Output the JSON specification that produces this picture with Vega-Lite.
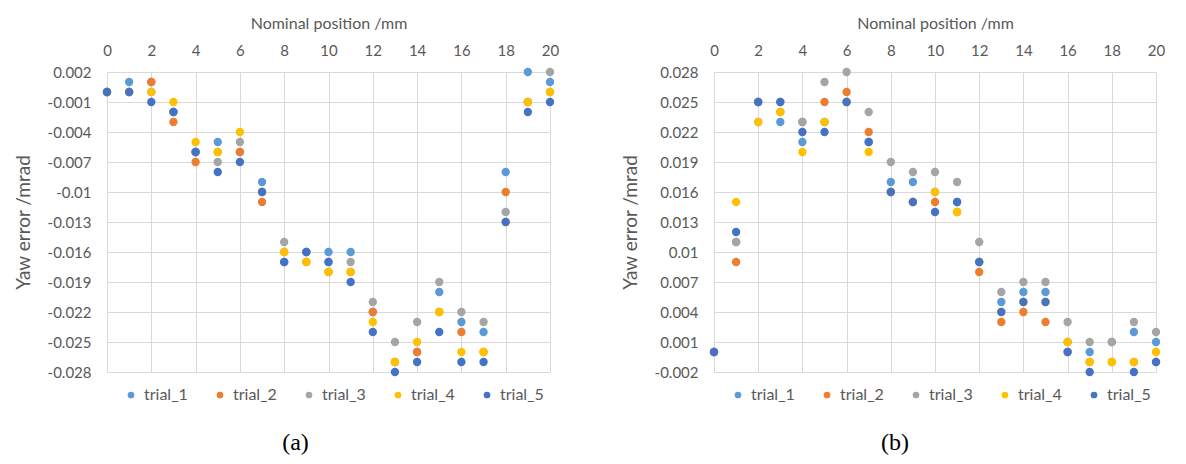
{
  "$schema": "https://vega.github.io/schema/vega-lite/v6.json",
  "padding": {"left": 14, "top": 15, "right": 0, "bottom": 0},
  "spacing": 62,
  "resolve": {"legend": {"color": "independent"}},
  "config": {
    "font": "Lato",
    "view": {"stroke": null},
    "axis": {"domain": false, "ticks": false, "gridColor": "#d9d9d9", "gridWidth": 1, "labelColor": "#595959", "labelFontSize": 15, "titleColor": "#595959", "titleFontSize": 16, "titleFontWeight": "normal", "labelFont": "Lato", "titleFont": "Lato", "labelFlush": false},
    "axisY": {"titleFontSize": 19},
    "axisX": {"titlePadding": 12},
    "legend": {"labelColor": "#595959", "labelFontSize": 16, "labelFont": "Lato", "symbolType": "circle", "symbolSize": 45, "symbolStrokeWidth": 0, "labelOffset": 5, "columnPadding": 24, "padding": 0},
    "title": {"font": "Liberation Serif", "fontSize": 24, "fontWeight": "normal", "color": "#000000"}
  },
  "datasets": {
    "a": [
      {"x":0,"t":"trial_1","y":0},{"x":1,"t":"trial_1","y":0.001},{"x":2,"t":"trial_1","y":0.001},{"x":3,"t":"trial_1","y":-0.002},{"x":4,"t":"trial_1","y":-0.006},{"x":5,"t":"trial_1","y":-0.005},{"x":6,"t":"trial_1","y":-0.006},{"x":7,"t":"trial_1","y":-0.009},{"x":8,"t":"trial_1","y":-0.017},{"x":9,"t":"trial_1","y":-0.016},{"x":10,"t":"trial_1","y":-0.016},{"x":11,"t":"trial_1","y":-0.016},{"x":12,"t":"trial_1","y":-0.022},{"x":13,"t":"trial_1","y":-0.027},{"x":14,"t":"trial_1","y":-0.026},{"x":15,"t":"trial_1","y":-0.020},{"x":16,"t":"trial_1","y":-0.023},{"x":17,"t":"trial_1","y":-0.024},{"x":18,"t":"trial_1","y":-0.008},{"x":19,"t":"trial_1","y":0.002},{"x":20,"t":"trial_1","y":0.001},
      {"x":0,"t":"trial_2","y":0},{"x":1,"t":"trial_2","y":0},{"x":2,"t":"trial_2","y":0.001},{"x":3,"t":"trial_2","y":-0.003},{"x":4,"t":"trial_2","y":-0.007},{"x":5,"t":"trial_2","y":-0.006},{"x":6,"t":"trial_2","y":-0.006},{"x":7,"t":"trial_2","y":-0.011},{"x":8,"t":"trial_2","y":-0.016},{"x":9,"t":"trial_2","y":-0.017},{"x":10,"t":"trial_2","y":-0.018},{"x":11,"t":"trial_2","y":-0.018},{"x":12,"t":"trial_2","y":-0.022},{"x":13,"t":"trial_2","y":-0.027},{"x":14,"t":"trial_2","y":-0.026},{"x":15,"t":"trial_2","y":-0.022},{"x":16,"t":"trial_2","y":-0.024},{"x":17,"t":"trial_2","y":-0.026},{"x":18,"t":"trial_2","y":-0.010},{"x":19,"t":"trial_2","y":-0.001},{"x":20,"t":"trial_2","y":0},
      {"x":0,"t":"trial_3","y":0},{"x":1,"t":"trial_3","y":0},{"x":2,"t":"trial_3","y":0},{"x":3,"t":"trial_3","y":-0.002},{"x":4,"t":"trial_3","y":-0.006},{"x":5,"t":"trial_3","y":-0.007},{"x":6,"t":"trial_3","y":-0.005},{"x":7,"t":"trial_3","y":-0.010},{"x":8,"t":"trial_3","y":-0.015},{"x":9,"t":"trial_3","y":-0.016},{"x":10,"t":"trial_3","y":-0.017},{"x":11,"t":"trial_3","y":-0.017},{"x":12,"t":"trial_3","y":-0.021},{"x":13,"t":"trial_3","y":-0.025},{"x":14,"t":"trial_3","y":-0.023},{"x":15,"t":"trial_3","y":-0.019},{"x":16,"t":"trial_3","y":-0.022},{"x":17,"t":"trial_3","y":-0.023},{"x":18,"t":"trial_3","y":-0.012},{"x":19,"t":"trial_3","y":-0.001},{"x":20,"t":"trial_3","y":0.002},
      {"x":0,"t":"trial_4","y":0},{"x":1,"t":"trial_4","y":0},{"x":2,"t":"trial_4","y":0},{"x":3,"t":"trial_4","y":-0.001},{"x":4,"t":"trial_4","y":-0.005},{"x":5,"t":"trial_4","y":-0.006},{"x":6,"t":"trial_4","y":-0.004},{"x":7,"t":"trial_4","y":-0.010},{"x":8,"t":"trial_4","y":-0.016},{"x":9,"t":"trial_4","y":-0.017},{"x":10,"t":"trial_4","y":-0.018},{"x":11,"t":"trial_4","y":-0.018},{"x":12,"t":"trial_4","y":-0.023},{"x":13,"t":"trial_4","y":-0.027},{"x":14,"t":"trial_4","y":-0.025},{"x":15,"t":"trial_4","y":-0.022},{"x":16,"t":"trial_4","y":-0.026},{"x":17,"t":"trial_4","y":-0.026},{"x":18,"t":"trial_4","y":-0.013},{"x":19,"t":"trial_4","y":-0.001},{"x":20,"t":"trial_4","y":0},
      {"x":0,"t":"trial_5","y":0},{"x":1,"t":"trial_5","y":0},{"x":2,"t":"trial_5","y":-0.001},{"x":3,"t":"trial_5","y":-0.002},{"x":4,"t":"trial_5","y":-0.006},{"x":5,"t":"trial_5","y":-0.008},{"x":6,"t":"trial_5","y":-0.007},{"x":7,"t":"trial_5","y":-0.010},{"x":8,"t":"trial_5","y":-0.017},{"x":9,"t":"trial_5","y":-0.016},{"x":10,"t":"trial_5","y":-0.017},{"x":11,"t":"trial_5","y":-0.019},{"x":12,"t":"trial_5","y":-0.024},{"x":13,"t":"trial_5","y":-0.028},{"x":14,"t":"trial_5","y":-0.027},{"x":15,"t":"trial_5","y":-0.024},{"x":16,"t":"trial_5","y":-0.027},{"x":17,"t":"trial_5","y":-0.027},{"x":18,"t":"trial_5","y":-0.013},{"x":19,"t":"trial_5","y":-0.002},{"x":20,"t":"trial_5","y":-0.001}
    ],
    "b": [
      {"x":0,"t":"trial_1","y":0},{"x":1,"t":"trial_1","y":0.011},{"x":2,"t":"trial_1","y":0.025},{"x":3,"t":"trial_1","y":0.023},{"x":4,"t":"trial_1","y":0.021},{"x":5,"t":"trial_1","y":0.023},{"x":6,"t":"trial_1","y":0.025},{"x":7,"t":"trial_1","y":0.021},{"x":8,"t":"trial_1","y":0.017},{"x":9,"t":"trial_1","y":0.017},{"x":10,"t":"trial_1","y":0.016},{"x":11,"t":"trial_1","y":0.015},{"x":12,"t":"trial_1","y":0.009},{"x":13,"t":"trial_1","y":0.005},{"x":14,"t":"trial_1","y":0.006},{"x":15,"t":"trial_1","y":0.006},{"x":16,"t":"trial_1","y":0.001},{"x":17,"t":"trial_1","y":0},{"x":18,"t":"trial_1","y":0.001},{"x":19,"t":"trial_1","y":0.002},{"x":20,"t":"trial_1","y":0.001},
      {"x":0,"t":"trial_2","y":0},{"x":1,"t":"trial_2","y":0.009},{"x":2,"t":"trial_2","y":0.025},{"x":3,"t":"trial_2","y":0.024},{"x":4,"t":"trial_2","y":0.023},{"x":5,"t":"trial_2","y":0.025},{"x":6,"t":"trial_2","y":0.026},{"x":7,"t":"trial_2","y":0.022},{"x":8,"t":"trial_2","y":0.016},{"x":9,"t":"trial_2","y":0.015},{"x":10,"t":"trial_2","y":0.015},{"x":11,"t":"trial_2","y":0.014},{"x":12,"t":"trial_2","y":0.008},{"x":13,"t":"trial_2","y":0.003},{"x":14,"t":"trial_2","y":0.004},{"x":15,"t":"trial_2","y":0.003},{"x":16,"t":"trial_2","y":0},{"x":17,"t":"trial_2","y":-0.001},{"x":18,"t":"trial_2","y":-0.001},{"x":19,"t":"trial_2","y":-0.001},{"x":20,"t":"trial_2","y":-0.001},
      {"x":0,"t":"trial_3","y":0},{"x":1,"t":"trial_3","y":0.011},{"x":2,"t":"trial_3","y":0.023},{"x":3,"t":"trial_3","y":0.025},{"x":4,"t":"trial_3","y":0.023},{"x":5,"t":"trial_3","y":0.027},{"x":6,"t":"trial_3","y":0.028},{"x":7,"t":"trial_3","y":0.024},{"x":8,"t":"trial_3","y":0.019},{"x":9,"t":"trial_3","y":0.018},{"x":10,"t":"trial_3","y":0.018},{"x":11,"t":"trial_3","y":0.017},{"x":12,"t":"trial_3","y":0.011},{"x":13,"t":"trial_3","y":0.006},{"x":14,"t":"trial_3","y":0.007},{"x":15,"t":"trial_3","y":0.007},{"x":16,"t":"trial_3","y":0.003},{"x":17,"t":"trial_3","y":0.001},{"x":18,"t":"trial_3","y":0.001},{"x":19,"t":"trial_3","y":0.003},{"x":20,"t":"trial_3","y":0.002},
      {"x":0,"t":"trial_4","y":0},{"x":1,"t":"trial_4","y":0.015},{"x":2,"t":"trial_4","y":0.023},{"x":3,"t":"trial_4","y":0.024},{"x":4,"t":"trial_4","y":0.020},{"x":5,"t":"trial_4","y":0.023},{"x":6,"t":"trial_4","y":0.025},{"x":7,"t":"trial_4","y":0.020},{"x":8,"t":"trial_4","y":0.016},{"x":9,"t":"trial_4","y":0.015},{"x":10,"t":"trial_4","y":0.016},{"x":11,"t":"trial_4","y":0.014},{"x":12,"t":"trial_4","y":0.009},{"x":13,"t":"trial_4","y":0.004},{"x":14,"t":"trial_4","y":0.005},{"x":15,"t":"trial_4","y":0.005},{"x":16,"t":"trial_4","y":0.001},{"x":17,"t":"trial_4","y":-0.001},{"x":18,"t":"trial_4","y":-0.001},{"x":19,"t":"trial_4","y":-0.001},{"x":20,"t":"trial_4","y":0},
      {"x":0,"t":"trial_5","y":0},{"x":1,"t":"trial_5","y":0.012},{"x":2,"t":"trial_5","y":0.025},{"x":3,"t":"trial_5","y":0.025},{"x":4,"t":"trial_5","y":0.022},{"x":5,"t":"trial_5","y":0.022},{"x":6,"t":"trial_5","y":0.025},{"x":7,"t":"trial_5","y":0.021},{"x":8,"t":"trial_5","y":0.016},{"x":9,"t":"trial_5","y":0.015},{"x":10,"t":"trial_5","y":0.014},{"x":11,"t":"trial_5","y":0.015},{"x":12,"t":"trial_5","y":0.009},{"x":13,"t":"trial_5","y":0.004},{"x":14,"t":"trial_5","y":0.005},{"x":15,"t":"trial_5","y":0.005},{"x":16,"t":"trial_5","y":0},{"x":17,"t":"trial_5","y":-0.002},{"x":19,"t":"trial_5","y":-0.002},{"x":20,"t":"trial_5","y":-0.001}
    ]
  },
  "hconcat": [
    {
      "title": {"text": "(a)", "orient": "bottom", "offset": 28, "dx": -33, "frame": "group", "anchor": "middle"},
      "width": 443, "height": 300,
      "data": {"name": "a"},
      "mark": {"type": "circle", "size": 70, "opacity": 1},
      "encoding": {
        "x": {"field": "x", "type": "quantitative", "scale": {"domain": [0, 20], "nice": false}, "axis": {"orient": "top", "values": [0,2,4,6,8,10,12,14,16,18,20], "title": "Nominal position /mm", "labelPadding": 14}},
        "y": {"field": "y", "type": "quantitative", "scale": {"domain": [-0.028, 0.002], "nice": false, "zero": false}, "axis": {"values": [0.002,-0.001,-0.004,-0.007,-0.01,-0.013,-0.016,-0.019,-0.022,-0.025,-0.028], "labelExpr": "'' + datum.value", "title": "Yaw error /mrad", "labelPadding": 16, "titlePadding": 14}},
        "color": {"field": "t", "type": "nominal", "scale": {"domain": ["trial_1","trial_2","trial_3","trial_4","trial_5"], "range": ["#5B9BD5","#ED7D31","#A5A5A5","#FFC000","#4472C4"]}, "legend": {"orient": "none", "legendX": 16, "legendY": 315, "direction": "horizontal", "title": null}}
      }
    },
    {
      "title": {"text": "(b)", "orient": "bottom", "offset": 28, "dx": -40, "frame": "group", "anchor": "middle"},
      "width": 442, "height": 300,
      "data": {"name": "b"},
      "mark": {"type": "circle", "size": 70, "opacity": 1},
      "encoding": {
        "x": {"field": "x", "type": "quantitative", "scale": {"domain": [0, 20], "nice": false}, "axis": {"orient": "top", "values": [0,2,4,6,8,10,12,14,16,18,20], "title": "Nominal position /mm", "labelPadding": 14}},
        "y": {"field": "y", "type": "quantitative", "scale": {"domain": [-0.002, 0.028], "nice": false, "zero": false}, "axis": {"values": [0.028,0.025,0.022,0.019,0.016,0.013,0.01,0.007,0.004,0.001,-0.002], "labelExpr": "'' + datum.value", "title": "Yaw error /mrad", "labelPadding": 16, "titlePadding": 14}},
        "color": {"field": "t", "type": "nominal", "scale": {"domain": ["trial_1","trial_2","trial_3","trial_4","trial_5"], "range": ["#5B9BD5","#ED7D31","#A5A5A5","#FFC000","#4472C4"]}, "legend": {"orient": "none", "legendX": 16, "legendY": 315, "direction": "horizontal", "title": null}}
      }
    }
  ]
}
